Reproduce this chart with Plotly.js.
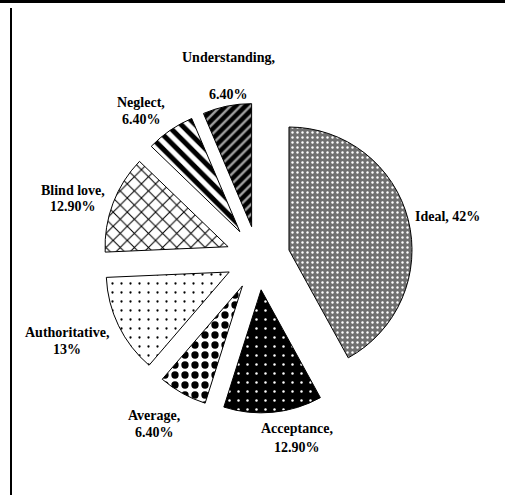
<!DOCTYPE html>
<html>
<head>
<meta charset="utf-8">
<script src="https://cdn.plot.ly/plotly-3.0.1.min.js"></script>
<style>html,body{margin:0;padding:0;background:#fff;}#chart{width:505px;height:495px;}</style>
</head>
<body>
<div id="chart"></div>
<script>
// Data
const categories = ["Ideal", "Acceptance", "Average", "Authoritative", "Blind love", "Neglect", "Understanding"];
const values = [42, 12.9, 6.4, 13, 12.9, 6.4, 6.4];
const valueLabels = ["42%", "12.90%", "6.40%", "13%", "12.90%", "6.40%", "6.40%"];

// Styles
const bgColors = ["#707070", "#000000", "#ffffff", "#ffffff", "#ffffff", "#ffffff", "#000000"];
const fgColors = ["#ffffff", "#ffffff", "#000000", "#000000", "#000000", "#000000", "#a0a0a0"];
const shapes = [".", ".", ".", ".", "x", "\\", "/"];
const sizes = [5, 9, 10, 9, 10, 10, 7];
const solidities = [0.18, 0.06, 0.42, 0.05, 0.2, 0.5, 0.35];

// Label placement (px): x, y of first line, y of second line
const labelPos = [
  {x: 447, y: 217},
  {x: 297, y: 428, y2: 447},
  {x: 154, y: 415, y2: 432},
  {x: 67, y: 332, y2: 349},
  {x: 73, y: 190, y2: 206},
  {x: 141, y: 102, y2: 119},
  {x: 228, y: 58, y2: 94}
];

const W = 505, H = 495;
const font = {family: "Liberation Serif, Times New Roman, serif", size: 14, color: "#000"};
const annotations = [];
function addText(t, x, y) {
  annotations.push({text: "<b>" + t + "</b>", x: x / W, y: 1 - y / H, xref: "paper", yref: "paper",
    showarrow: false, font: font, xanchor: "center", yanchor: "middle"});
}
categories.forEach((c, i) => {
  const p = labelPos[i];
  if (p.y2 === undefined) {
    addText(c + ", " + valueLabels[i], p.x, p.y);
  } else {
    addText(c + ",", p.x, p.y);
    addText(valueLabels[i], p.x, p.y2);
  }
});

const cx = 258, cy = 258, half = 155;
const trace = {
  type: "pie",
  labels: categories,
  values: values,
  sort: false,
  direction: "clockwise",
  rotation: 0,
  pull: categories.map(() => 0.26),
  textinfo: "none",
  hoverinfo: "label+percent",
  showlegend: false,
  marker: {
    colors: bgColors,
    line: {color: "#000", width: 1},
    pattern: {shape: shapes, fgcolor: fgColors, bgcolor: bgColors, size: sizes, solidity: solidities,
      fillmode: "replace", fgopacity: 1}
  },
  domain: {x: [(cx - half) / W, (cx + half) / W], y: [(H - cy - half) / H, (H - cy + half) / H]}
};

const layout = {
  width: W, height: H,
  margin: {l: 0, r: 0, t: 0, b: 0},
  paper_bgcolor: "#fff",
  showlegend: false,
  annotations: annotations,
  shapes: [
    {type: "line", xref: "paper", yref: "paper", x0: 0, x1: 1, y0: 1 - 1.5 / H, y1: 1 - 1.5 / H, line: {color: "#000", width: 3}},
    {type: "line", xref: "paper", yref: "paper", x0: 11 / W, x1: 11 / W, y0: 0, y1: 1 - 8 / H, line: {color: "#000", width: 2}}
  ]
};

Plotly.newPlot("chart", [trace], layout, {displayModeBar: false, staticPlot: true});
</script>
</body>
</html>
